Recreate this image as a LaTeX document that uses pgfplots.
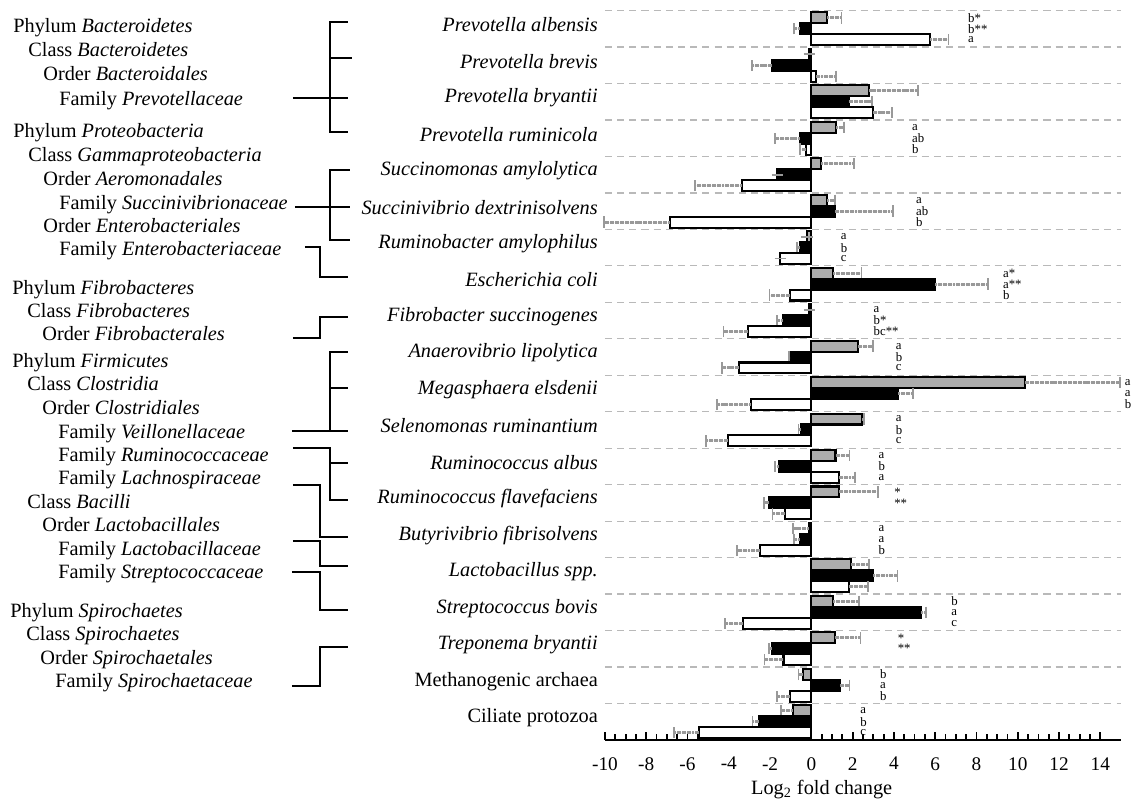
\documentclass[border=0pt]{standalone}
\usepackage{fontspec}
\setmainfont{Liberation Serif}
\usepackage{pgfplots}
\pgfplotsset{compat=1.18}
\usepackage{pgfplotstable}

\pgfplotstableread{
y g ge b be w we
1 0.76 0.70 -0.57 -0.29 5.75 0.89
2 -0.10 0 -1.90 -0.97 0.22 0.98
3 2.79 2.38 1.81 1.11 2.98 0.94
4 1.20 0.37 -0.57 -1.18 -0.24 -0.33
5 0.47 1.59 -1.64 0 -3.37 -2.27
6 0.76 0.37 1.13 2.84 -6.85 -3.19
7 -0.22 0 -0.57 -0.13 -1.51 0
8 1.05 1.38 6.00 2.55 -1.02 -1.01
9 -0.10 0 -1.38 -0.29 -3.05 -1.21
10 2.25 0.75 -1.02 -0.08 -3.50 -0.84
11 10.33 4.62 4.20 0.74 -2.93 -1.66
12 2.46 0.09 -0.50 -0.12 -4.02 -1.08
13 1.17 0.68 -1.59 -0.16 1.33 0.78
14 1.33 1.91 -2.04 -0.24 -1.26 -0.62
15 -0.13 -0.76 -0.57 -0.29 -2.48 -1.13
16 1.90 0.89 3.00 1.17 1.81 0.94
17 1.05 1.25 5.33 0.21 -3.29 -0.89
18 1.13 1.25 -1.91 -0.13 -1.35 -0.92
19 -0.40 -0.22 1.38 0.47 -1.02 -0.65
20 -0.89 -0.58 -2.53 -0.32 -5.44 -1.22
}\datatable

\pgfplotstableread{
x y t
7.58 0.7 b*
7.58 1.0 b**
7.58 1.3 a
4.86 3.7 a
4.86 4.0 ab
4.86 4.3 b
5.06 5.7 a
5.06 6.0 ab
5.06 6.3 b
1.41 6.7 a
1.41 7.0 b
1.41 7.3 c
9.27 7.7 a*
9.27 8.0 a**
9.27 8.3 b
3.00 8.7 a
3.00 9.0 b*
3.00 9.3 bc**
4.08 9.7 a
4.08 10.0 b
4.08 10.3 c
15.17 10.7 a
15.17 11.0 a
15.17 11.3 b
4.08 11.7 a
4.08 12.0 b
4.08 12.3 c
3.24 12.7 a
3.24 13.0 b
3.24 13.3 a
4.00 13.7 *
4.00 14.0 **
3.24 14.7 a
3.24 15.0 a
3.24 15.3 b
6.76 16.7 b
6.76 17.0 a
6.76 17.3 c
4.17 17.7 *
4.17 18.0 **
3.31 18.7 b
3.31 19.0 a
3.31 19.3 b
2.35 19.7 a
2.35 20.0 b
2.35 20.3 c
}\lettertable

\pgfplotsset{
  errstyle/.style={
    error bars/.cd, x dir=plus, x explicit,
    error bar style={line width=1.5pt, gray!80, dash pattern=on 1pt off 0.25pt},
    error mark=|,
    error mark options={solid, line width=0.9pt, gray!80, mark size=2.8pt}
  },
  barstyle/.style={xbar, bar width=0.3, bar shift=0, draw=black, line width=1pt}
}

\begin{document}
\begin{tikzpicture}
\path[use as bounding box] (0,0) rectangle (557.14pt,-394.57pt);

\begin{axis}[
  at={(298.0pt,-364.5pt)}, anchor=south west,
  scale only axis, width=254.2pt, height=359.3pt,
  xmin=-10, xmax=15, ymin=0.5, ymax=20.5, y dir=reverse,
  axis x line*=bottom, axis y line*=left,
  y axis line style={draw=none},
  x axis line style={line width=1pt, -},
  xtick={-10,-8,...,14}, minor x tick num=3,
  tick align=inside,
  major tick length=4pt, minor tick length=3pt,
  xtick style={black, line width=0.9pt},
  ytick={1,...,20},
  yticklabels={\textit{Prevotella albensis},\textit{Prevotella brevis},\textit{Prevotella bryantii},\textit{Prevotella ruminicola},\textit{Succinomonas amylolytica},\textit{Succinivibrio dextrinisolvens},\textit{Ruminobacter amylophilus},\textit{Escherichia coli},\textit{Fibrobacter succinogenes},\textit{Anaerovibrio lipolytica},\textit{Megasphaera elsdenii},\textit{Selenomonas ruminantium},\textit{Ruminococcus albus},\textit{Ruminococcus flavefaciens},\textit{Butyrivibrio fibrisolvens},\textit{Lactobacillus spp.},\textit{Streptococcus bovis},\textit{Treponema bryantii},Methanogenic archaea,Ciliate protozoa},
  ytick style={draw=none},
  yticklabel style={font=\fontsize{10}{12}\selectfont, yshift=2pt},
  xticklabel style={font=\fontsize{9.5}{11}\selectfont, yshift=-5pt},
  extra y ticks={0.5,1.5,...,19.5},
  extra y tick labels={},
  extra y tick style={grid=major, major grid style={gray!55, dash pattern=on 3.5pt off 2.5pt, line width=0.6pt}, tick style={draw=none}},
  xlabel={Log\textsubscript{2} fold change},
  xlabel style={at={(ticklabel cs:0.42)}, anchor=north, font=\fontsize{10}{12}\selectfont, yshift=2pt},
  /pgf/number format/assume math mode=true,
  clip=false,
]
\addplot[barstyle, fill=gray!65, errstyle]
  table[x=g, y expr=\thisrow{y}-0.3, x error=ge] {\datatable};
\addplot[barstyle, fill=black, errstyle]
  table[x=b, y=y, x error=be] {\datatable};
\addplot[barstyle, fill=white, errstyle]
  table[x=w, y expr=\thisrow{y}+0.3, x error=we] {\datatable};
\addplot[draw=none, mark=none, nodes near coords, point meta=explicit symbolic,
  every node near coord/.style={anchor=west, inner sep=0pt, font=\fontsize{6.3}{7}\selectfont}]
  table[x=x, y=y, meta=t] {\lettertable};
\end{axis}

\begin{scope}[x=0.4926pt, y=-0.4926pt, font=\fontsize{10}{12}\selectfont]
\node[anchor=base west, inner sep=0pt] at (13,32) {Phylum \textit{Bacteroidetes}};
\node[anchor=base west, inner sep=0pt] at (28,56) {Class \textit{Bacteroidetes}};
\node[anchor=base west, inner sep=0pt] at (43,80) {Order \textit{Bacteroidales}};
\node[anchor=base west, inner sep=0pt] at (59,105) {Family \textit{Prevotellaceae}};
\node[anchor=base west, inner sep=0pt] at (13,137) {Phylum \textit{Proteobacteria}};
\node[anchor=base west, inner sep=0pt] at (28,161) {Class \textit{Gammaproteobacteria}};
\node[anchor=base west, inner sep=0pt] at (43,185) {Order \textit{Aeromonadales}};
\node[anchor=base west, inner sep=0pt] at (59,209) {Family \textit{Succinivibrionaceae}};
\node[anchor=base west, inner sep=0pt] at (43,232) {Order \textit{Enterobacteriales}};
\node[anchor=base west, inner sep=0pt] at (59,255) {Family \textit{Enterobacteriaceae}};
\node[anchor=base west, inner sep=0pt] at (12,294) {Phylum \textit{Fibrobacteres}};
\node[anchor=base west, inner sep=0pt] at (27,317) {Class \textit{Fibrobacteres}};
\node[anchor=base west, inner sep=0pt] at (42,340) {Order \textit{Fibrobacterales}};
\node[anchor=base west, inner sep=0pt] at (12,367) {Phylum \textit{Firmicutes}};
\node[anchor=base west, inner sep=0pt] at (27,390) {Class \textit{Clostridia}};
\node[anchor=base west, inner sep=0pt] at (42,414) {Order \textit{Clostridiales}};
\node[anchor=base west, inner sep=0pt] at (58,438) {Family \textit{Veillonellaceae}};
\node[anchor=base west, inner sep=0pt] at (58,461) {Family \textit{Ruminococcaceae}};
\node[anchor=base west, inner sep=0pt] at (58,484) {Family \textit{Lachnospiraceae}};
\node[anchor=base west, inner sep=0pt] at (27,508) {Class \textit{Bacilli}};
\node[anchor=base west, inner sep=0pt] at (42,531) {Order \textit{Lactobacillales}};
\node[anchor=base west, inner sep=0pt] at (58,555) {Family \textit{Lactobacillaceae}};
\node[anchor=base west, inner sep=0pt] at (58,578) {Family \textit{Streptococcaceae}};
\node[anchor=base west, inner sep=0pt] at (10,617) {Phylum \textit{Spirochaetes}};
\node[anchor=base west, inner sep=0pt] at (26,640) {Class \textit{Spirochaetes}};
\node[anchor=base west, inner sep=0pt] at (40,664) {Order \textit{Spirochaetales}};
\node[anchor=base west, inner sep=0pt] at (55,687) {Family \textit{Spirochaetaceae}};

\begin{scope}[line width=1pt]
% Prevotellaceae
\draw (348,21.7) -- (330,21.7) -- (330,131.7) -- (348,131.7);
\draw (330,58) -- (352,58);
\draw (293,98) -- (348,98);
% Proteobacteria / Succinivibrionaceae
\draw (350,170) -- (330,170) -- (330,240) -- (350,240);
\draw (295,206.7) -- (350,206.7);
% Enterobacteriaceae
\draw (305,246.7) -- (320,246.7) -- (320,276.7) -- (348,276.7);
% Fibrobacterales
\draw (293,338.3) -- (320,338.3) -- (320,316.7) -- (348,316.7);
% Veillonellaceae
\draw (348,351.7) -- (330,351.7) -- (330,430.7);
\draw (330,388.3) -- (348,388.3);
\draw (292,430.7) -- (348,430.7);
% Ruminococcaceae
\draw (293,448.3) -- (330,448.3) -- (330,500) -- (348,500);
\draw (330,462.7) -- (348,462.7);
% Lachnospiraceae
\draw (293,485) -- (320,485) -- (320,536.7) -- (348,536.7);
% Lactobacillaceae
\draw (293,540.7) -- (320,540.7) -- (320,566) -- (348,566);
% Streptococcaceae
\draw (292,572) -- (320,572) -- (320,610) -- (348,610);
% Spirochaetaceae
\draw (292,686) -- (320,686) -- (320,647) -- (348,647);
\end{scope}
\end{scope}
\end{tikzpicture}
\end{document}
